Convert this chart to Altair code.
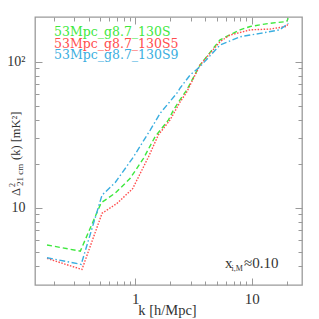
import altair as alt
import pandas as pd

# ---- data ----
series_names = ["53Mpc_g8.7_130S", "53Mpc_g8.7_130S5", "53Mpc_g8.7_130S9"]
series_colors = ["#3ee83e", "#ff4d4d", "#3aaee0"]

k_s = [0.175, 0.338, 0.51, 0.674, 0.906, 1.178, 1.48, 1.93, 2.13, 2.43, 2.77, 3.6, 5.35, 7.94, 9.7, 14.3, 19.9, 20.6]
p_s = [5.56, 5.05, 10.8, 12.6, 15.9, 21.8, 30.6, 39.9, 46.7, 55.0, 64.0, 94.8, 141, 165, 174, 183, 188, 198]

k_s5 = [0.175, 0.349, 0.519, 0.697, 0.95, 1.30, 1.58, 1.99, 2.43, 2.77, 3.6, 5.35, 6.5, 9.7, 14.3, 19.9, 20.6]
p_s5 = [4.5, 3.78, 9.16, 10.7, 13.5, 22.3, 31.5, 39.9, 53, 62, 94.8, 137, 152, 165, 167, 174, 183]

k_s9 = [0.175, 0.344, 0.519, 0.674, 0.967, 1.345, 1.64, 2.28, 2.43, 2.96, 3.6, 5.35, 7.94, 11.8, 17.4, 20.6]
p_s9 = [4.55, 4.10, 12.2, 14.9, 22.3, 34.0, 44.4, 60.8, 66, 81, 92.5, 130, 148, 156, 165, 183]

x_major = [1, 10]
x_minor = [0.2, 0.3, 0.4, 0.5, 0.6, 0.7, 0.8, 0.9, 2, 3, 4, 5, 6, 7, 8, 9, 20]
y_major = [10, 100]
y_minor = [4, 5, 6, 7, 8, 9, 20, 30, 40, 50, 60, 70, 80, 90]

x_domain = [0.138, 27.0]
y_domain = [2.96, 202]

x_title = "k [h/Mpc]"
annotation = ["x", "i,M", "≈0.10"]
y_title_parts = ["Δ", "2", "21 cm", "(k) [mK²]"]

rows = []
for name, ks, ps in zip(series_names, [k_s, k_s5, k_s9], [p_s, p_s5, p_s9]):
    for k, p in zip(ks, ps):
        rows.append({"k": k, "P": p, "series": name})
df = pd.DataFrame(rows)

FONT = "Liberation Serif"
GRAY = "#9a9a9a"
TXT = "#333333"

xs = alt.Scale(type="log", domain=x_domain, nice=False)
ys = alt.Scale(type="log", domain=y_domain, nice=False)


def ax(orient, values, size, labels=False, **kw):
    return alt.Axis(orient=orient, values=values, tickSize=size, offset=-size,
                    domain=False, grid=False, labels=labels, tickColor=GRAY,
                    tickWidth=1, **kw)


ax_bottom = ax("bottom", x_major, 7, labels=True, labelExpr="datum.value >= 10 ? '10' : '1'",
               labelFont=FONT, labelFontSize=15, labelPadding=6, labelColor=TXT,
               labelFlush=False, labelOverlap=False, title=None)
ax_left = ax("left", y_major, 7, labels=True,
             labelExpr="datum.value >= 100 ? '10²' : '10'",
             labelFont=FONT, labelFontSize=14, labelPadding=10, labelColor=TXT,
             labelFlush=False, labelOverlap=False, title=None)

color = alt.Color("series:N", scale=alt.Scale(domain=series_names, range=series_colors), legend=None)
dash = alt.StrokeDash("series:N", scale=alt.Scale(domain=series_names,
                                                  range=[[5, 3], [1.5, 1.5], [6, 2.5, 1.5, 2.5]]),
                      legend=None)

lines = alt.Chart(df).mark_line(strokeWidth=1.4).encode(
    x=alt.X("k:Q", scale=xs, axis=ax_bottom),
    y=alt.Y("P:Q", scale=ys, axis=ax_left),
    color=color, strokeDash=dash, detail="series:N",
)

base_inv = alt.Chart(df).mark_point(opacity=0)
minor_bl = base_inv.encode(
    x=alt.X("k:Q", scale=xs, axis=ax("bottom", x_minor, 4, title=None)),
    y=alt.Y("P:Q", scale=ys, axis=ax("left", y_minor, 4, title=None)),
)
major_tr = base_inv.encode(
    x=alt.X("k:Q", scale=xs, axis=ax("top", x_major, 7, title=None)),
    y=alt.Y("P:Q", scale=ys, axis=ax("right", y_major, 7, title=None)),
)
minor_tr = base_inv.encode(
    x=alt.X("k:Q", scale=xs, axis=ax("top", x_minor, 4, title=None)),
    y=alt.Y("P:Q", scale=ys, axis=ax("right", y_minor, 4, title=None)),
)

# legend text (plain coloured labels, top-left)
leg_df = pd.DataFrame({"series": series_names, "ypix": [15.0, 26.6, 38.2]})
legend = alt.Chart(leg_df).mark_text(font="DejaVu Serif", fontSize=12.5, align="left",
                                     baseline="middle").encode(
    x=alt.value(19), y=alt.Y("ypix:Q", scale=None), text="series:N", color=color,
)

# annotation x_{i,M} ≈ 0.10
ann_df = pd.DataFrame({
    "txt": annotation,
    "xp": [190, 196.5, 209],
    "yp": [250.7, 253.5, 250.7],
    "fs": [15, 8, 15],
})
ann = alt.Chart(ann_df).mark_text(font=FONT, align="left", baseline="alphabetic", color=TXT).encode(
    x=alt.X("xp:Q", scale=None), y=alt.Y("yp:Q", scale=None), text="txt:N",
    size=alt.Size("fs:Q", scale=None, legend=None),
)

# x-axis title
xt_df = pd.DataFrame({"txt": [x_title], "xp": [132.5], "yp": [298.0]})
xtitle = alt.Chart(xt_df).mark_text(font=FONT, fontSize=14.5, align="center", baseline="alphabetic",
                                    color=TXT).encode(
    x=alt.X("xp:Q", scale=None), y=alt.Y("yp:Q", scale=None), text="txt:N",
)

# rotated y-axis title pieces
yt_df = pd.DataFrame({
    "txt": y_title_parts,
    "xp": [-15.0, -20.5, -12.0, -15.0],
    "yp": [179, 170, 169, 143],
    "fs": [12.5, 8, 9, 12.5],
})
ytitle = alt.Chart(yt_df).mark_text(font=FONT, align="left", baseline="alphabetic", angle=270,
                                    color=TXT).encode(
    x=alt.X("xp:Q", scale=None), y=alt.Y("yp:Q", scale=None), text="txt:N",
    size=alt.Size("fs:Q", scale=None, legend=None),
)

chart = alt.layer(lines, minor_bl, major_tr, minor_tr, legend, ann, xtitle, ytitle).resolve_axis(
    x="independent", y="independent"
).properties(
    width=267, height=268,
    autosize=alt.AutoSizeParams(type="none"),
    padding={"left": 27, "top": 9, "right": 9, "bottom": 34},
    background="white",
).configure_view(stroke=GRAY, strokeWidth=1.3)

chart.save("out.html", embed_options={"renderer": "svg", "actions": False})
